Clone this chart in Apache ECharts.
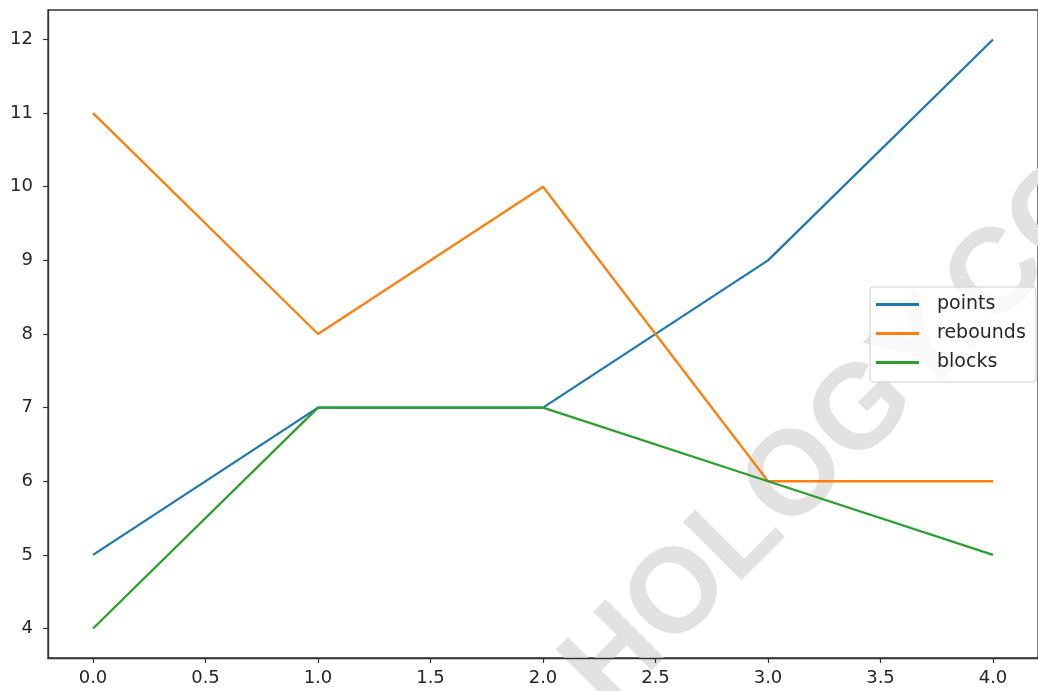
<!DOCTYPE html>
<html>
<head>
<meta charset="utf-8">
<script src="https://cdn.jsdelivr.net/npm/echarts@6/dist/echarts.min.js"></script>
<style>html,body{margin:0;padding:0;background:#fff}#c{width:1038px;height:691px}</style>
</head>
<body>
<div id="c"></div>
<script>
const xValues = [0, 1, 2, 3, 4];
const points = [5, 7, 7, 9, 12];
const rebounds = [11, 8, 10, 6, 6];
const blocks = [4, 7, 7, 6, 5];
const xTicks = [0, 0.5, 1, 1.5, 2, 2.5, 3, 3.5, 4];
const yTicks = [4, 5, 6, 7, 8, 9, 10, 11, 12];
const seriesNames = ['points', 'rebounds', 'blocks'];
const colors = ['#1f77b4', '#ff7f0e', '#2ca02c'];
const watermark = 'HOLOGY.COM';

const chart = echarts.init(document.getElementById('c'), null, {renderer: 'canvas'});
const pair = arr => xValues.map((x, i) => [x, arr[i]]);
const fontFam = '"DejaVu Sans", sans-serif';
const axisCommon = {
  axisLine: {show: true, onZero: false, lineStyle: {color: '#333', width: 1.3}},
  axisTick: {show: true, length: 5, lineStyle: {color: '#333', width: 1.2}},
  splitLine: {show: false},
};
chart.setOption({
  animation: false,
  color: colors,
  grid: {left: 48, top: 10, width: 996, height: 648, show: true, borderColor: '#333', borderWidth: 1.3, backgroundColor: 'transparent'},
  graphic: [{
    type: 'text', x: 585, y: 690, rotation: 45 * Math.PI / 180, z: 0, silent: true,
    style: {text: watermark, x: 0, y: 0, align: 'left', verticalAlign: 'middle',
      font: 'bold 120px "Liberation Sans", Arial, sans-serif', fill: '#e2e2e2'}
  }],
  legend: {
    orient: 'vertical', left: 870, top: 287,
    padding: [8, 10, 10, 6], itemGap: 10, itemWidth: 43, itemHeight: 3,
    icon: 'rect',
    backgroundColor: 'rgba(255,255,255,0.8)', borderColor: '#d0d0d0', borderWidth: 1, borderRadius: 3,
    textStyle: {fontFamily: fontFam, fontSize: 19, color: '#262626', lineHeight: 18, padding: [0, 0, 0, 13]},
    data: seriesNames
  },
  xAxis: Object.assign({}, axisCommon, {
    type: 'value', min: -0.2, max: 4.2,
    axisTick: Object.assign({}, axisCommon.axisTick, {customValues: xTicks}),
    axisLabel: {customValues: xTicks, margin: 11, fontFamily: fontFam, fontSize: 18, color: '#262626',
      formatter: v => v.toFixed(1)}
  }),
  yAxis: Object.assign({}, axisCommon, {
    type: 'value', min: 3.6, max: 12.4,
    axisTick: Object.assign({}, axisCommon.axisTick, {customValues: yTicks}),
    axisLabel: {customValues: yTicks, margin: 15, fontFamily: fontFam, fontSize: 18, color: '#262626',
      formatter: v => String(v)}
  }),
  series: [
    {name: seriesNames[0], type: 'line', data: pair(points)},
    {name: seriesNames[1], type: 'line', data: pair(rebounds)},
    {name: seriesNames[2], type: 'line', data: pair(blocks)}
  ].map(s => Object.assign(s, {showSymbol: false, symbol: 'none', lineStyle: {width: 2.3}, z: 2}))
});
</script>
</body>
</html>
